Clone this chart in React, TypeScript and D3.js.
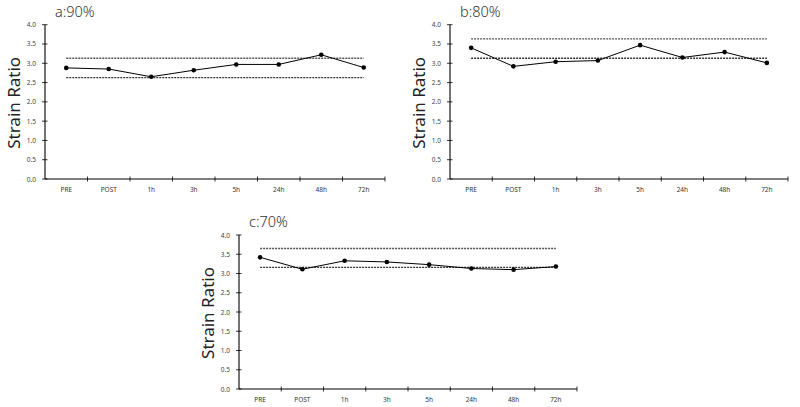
import React from "react";
import * as d3 from "d3";

const categories = ["PRE", "POST", "1h", "3h", "5h", "24h", "48h", "72h"];
const yTicks = [0, 0.5, 1, 1.5, 2, 2.5, 3, 3.5, 4];

const valuesA = [2.88, 2.85, 2.65, 2.82, 2.97, 2.97, 3.22, 2.89];
const valuesB = [3.4, 2.92, 3.04, 3.07, 3.47, 3.15, 3.29, 3.01];
const valuesC = [3.42, 3.11, 3.33, 3.3, 3.23, 3.13, 3.1, 3.18];

const refA = [3.13, 2.63];
const refB = [3.63, 3.13];
const refC = [3.65, 3.16];

const titles = ["a:90%", "b:80%", "c:70%"];

const panels = [
  { title: titles[0], values: valuesA, refs: refA, x0: 45, x1: 385, yTop: 24.7, yBot: 179 },
  { title: titles[1], values: valuesB, refs: refB, x0: 450, x1: 788, yTop: 24.7, yBot: 179 },
  { title: titles[2], values: valuesC, refs: refC, x0: 239, x1: 577, yTop: 235, yBot: 389 },
];

const FONT = "'Noto Sans', 'Open Sans', sans-serif";

function Panel({ p }: { p: (typeof panels)[number] }) {
  const x = d3.scaleBand<string>().domain(categories).range([p.x0, p.x1]);
  const y = d3.scaleLinear().domain([0, 4]).range([p.yBot, p.yTop]);
  const cx = (c: string) => (x(c) as number) + x.bandwidth() / 2;
  const line = d3
    .line<number>()
    .x((_, i) => cx(categories[i]))
    .y((v) => y(v));
  const xFirst = cx(categories[0]);
  const xLast = cx(categories[categories.length - 1]);
  const boundaries = categories.map((c) => (x(c) as number) + x.bandwidth());
  const midY = (p.yTop + p.yBot) / 2 + 1;
  return (
    <g>
      <text
        x={p.x0 + 10}
        y={p.yTop - 8}
        fontSize={14.5}
        fontFamily={FONT}
        fontWeight={300}
        fill="#333"
      >
        {p.title}
      </text>
      <text
        transform={`translate(${p.x0 - 32},${midY}) rotate(-90)`}
        textAnchor="middle"
        dominantBaseline="central"
        fontSize={17}
        fontFamily={FONT}
        fill="#222"
      >
        Strain Ratio
      </text>
      {/* y axis */}
      <line x1={p.x0} x2={p.x0} y1={p.yTop} y2={p.yBot} stroke="#000" strokeWidth={1.1} />
      {yTicks.map((t) => (
        <g key={t}>
          <line x1={p.x0 - 3} x2={p.x0 + 2.5} y1={y(t)} y2={y(t)} stroke="#000" strokeWidth={0.8} />
          <text
            x={p.x0 - 9}
            y={y(t)}
            textAnchor="end"
            dominantBaseline="central"
            fontSize={6.5}
            fontFamily={FONT}
            fill="#444"
          >
            {t.toFixed(1)}
          </text>
        </g>
      ))}
      {/* x axis */}
      <line x1={p.x0} x2={p.x1} y1={p.yBot} y2={p.yBot} stroke="#000" strokeWidth={1.1} />
      {boundaries.map((b, i) => (
        <line key={i} x1={b} x2={b} y1={p.yBot - 2.5} y2={p.yBot + 2.5} stroke="#000" strokeWidth={0.8} />
      ))}
      {categories.map((c) => (
        <text
          key={c}
          x={cx(c)}
          y={p.yBot + 13}
          textAnchor="middle"
          fontSize={6.5}
          fontFamily={FONT}
          fill="#333"
        >
          {c}
        </text>
      ))}
      {/* reference dashed lines */}
      {p.refs.map((r, i) => (
        <line
          key={i}
          x1={xFirst}
          x2={xLast}
          y1={y(r)}
          y2={y(r)}
          stroke={i === 0 ? "#555" : "#333"}
          strokeWidth={1.3}
          strokeDasharray="2,1"
        />
      ))}
      <path d={line(p.values) || ""} fill="none" stroke="#000" strokeWidth={1} />
      {p.values.map((v, i) => (
        <circle key={i} cx={cx(categories[i])} cy={y(v)} r={2.3} fill="#000" />
      ))}
    </g>
  );
}

export default function App() {
  return (
    <svg
      width={800}
      height={407}
      style={{ position: "absolute", left: 0, top: 0, background: "#fff" }}
    >
      <rect width={800} height={407} fill="#fff" />
      {panels.map((p) => (
        <Panel key={p.title} p={p} />
      ))}
    </svg>
  );
}
